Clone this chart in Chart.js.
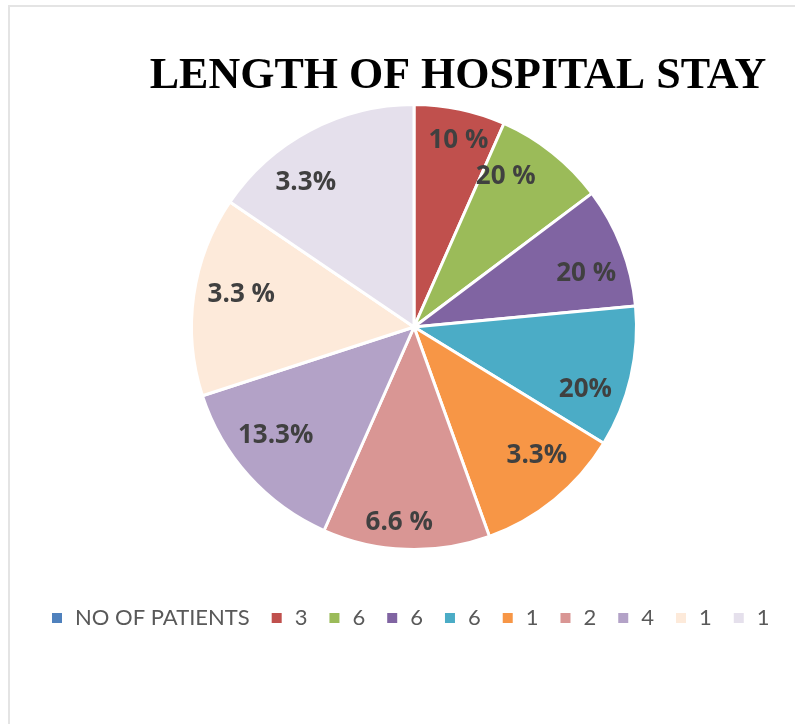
<!DOCTYPE html>
<html>
<head>
<meta charset="utf-8">
<script src="https://cdn.jsdelivr.net/npm/chart.js@4"></script>
<style>
  body { margin: 0; background: #fff; }
  #wrap { position: relative; width: 795px; height: 724px; }
  #frame { position: absolute; left: 8px; top: 5px; right: -2px; bottom: -2px;
           border-top: 2px solid #e4e4e4; border-left: 2px solid #e4e4e4; }
  canvas { position: absolute; left: 0; top: 0; }
</style>
</head>
<body>
<div id="wrap">
  <div id="frame"></div>
  <canvas id="pie-chart" width="795" height="724"></canvas>
</div>
<script>
// chart data
const chartTitle = 'LENGTH OF HOSPITAL STAY';
const seriesName = 'NO OF PATIENTS';
const categories = ['3', '6', '6', '6', '1', '2', '4', '1', '1'];
// slice sizes (estimated from the drawn angles)
const sliceValues = [5.3, 6.5, 7.0, 8.2, 8.6, 9.7, 10.7, 11.6, 12.4];
const sliceLabels = ['10 %', '20 %', '20 %', '20%', '3.3%', '6.6 %', '13.3%', '3.3 %', '3.3%'];

// colours, Excel 2010 style
const seriesColor = '#4F81BD';
const sliceColors = ['#C0504D', '#9BBB59', '#8064A2', '#4BACC6', '#F79646',
                     '#D99694', '#B3A2C7', '#FDEADA', '#E5E0EC'];

// label placement tweaks: [angle shift in degrees, fraction of radius]
const labelPlace = [[1.5, 0.86], [-7, 0.79], [4, 0.81], [7, 0.82], [-4.5, 0.80],
                    [2.3, 0.88], [4, 0.79], [2.6, 0.79], [-9, 0.81]];

const titlePlugin = {
    id: 'excelTitle',
    afterDraw(chart) {
        const c = chart.ctx;
        c.save();
        c.font = 'bold 44px "Liberation Serif", "Times New Roman", serif';
        c.fillStyle = '#000';
        c.textAlign = 'center';
        c.textBaseline = 'alphabetic';
        c.fillText(chartTitle, 458, 88);
        c.restore();
    }
};

const sliceLabelPlugin = {
    id: 'sliceLabels',
    afterDatasetsDraw(chart) {
        const c = chart.ctx;
        const arcs = chart.getDatasetMeta(0).data;
        c.save();
        c.font = 'bold 26px "Open Sans", sans-serif';
        c.fillStyle = '#404040';
        c.textAlign = 'center';
        c.textBaseline = 'middle';
        arcs.forEach((arc, i) => {
            const p = arc.getProps(['x', 'y', 'startAngle', 'endAngle', 'outerRadius'], true);
            const mid = (p.startAngle + p.endAngle) / 2 + labelPlace[i][0] * Math.PI / 180;
            const r = p.outerRadius * labelPlace[i][1];
            c.fillText(sliceLabels[i], p.x + Math.cos(mid) * r, p.y + Math.sin(mid) * r);
        });
        c.restore();
    }
};

const legendPlugin = {
    id: 'excelLegend',
    afterDraw(chart) {
        const c = chart.ctx;
        const items = [{ text: seriesName, color: seriesColor }]
            .concat(categories.map((t, i) => ({ text: t, color: sliceColors[i] })));
        c.save();
        c.font = '22px Lato, sans-serif';
        c.textBaseline = 'middle';
        c.textAlign = 'left';
        let x = 52;
        const y = 618;
        items.forEach(it => {
            c.fillStyle = it.color;
            c.fillRect(x, y - 5, 10, 10);
            x += 23;
            c.fillStyle = '#595959';
            c.fillText(it.text, x, y);
            x += c.measureText(it.text).width + 22;
        });
        c.restore();
    }
};

const ctx = document.getElementById('pie-chart').getContext('2d');

const pieChart = new Chart(ctx, {
    type: 'pie',
    data: {
        labels: categories,
        datasets: [{
            label: seriesName,
            data: sliceValues,
            backgroundColor: sliceColors,
            borderColor: '#ffffff',
            borderWidth: 3,
        }]
    },
    options: {
        responsive: false,
        animation: false,
        layout: {
            padding: { left: 190, right: 157, top: 103, bottom: 173 }
        },
        plugins: {
            legend: { display: false },
            title: { display: false },
            tooltip: { enabled: false },
        },
    },
    plugins: [titlePlugin, sliceLabelPlugin, legendPlugin],
});
</script>
</body>
</html>
